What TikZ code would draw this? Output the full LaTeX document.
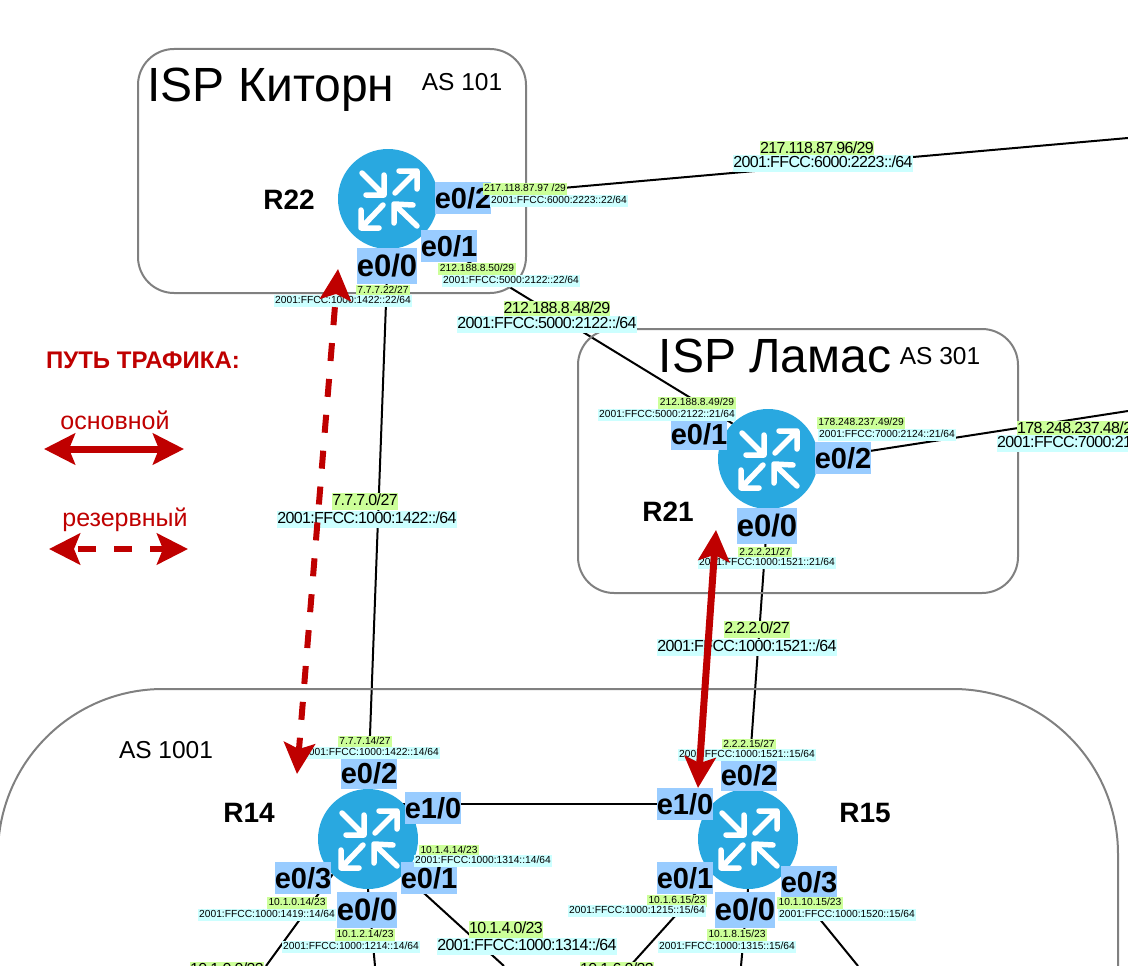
\documentclass[tikz,border=0pt]{standalone}
\usepackage{fontspec}
\usepackage{xcolor}
\usetikzlibrary{arrows.meta,backgrounds}
\setmainfont{Liberation Sans}
\newfontfamily\tightfont[LetterSpace=-4]{Liberation Sans}
\definecolor{router-blue}{HTML}{29A8E0}
\definecolor{port-blue}{HTML}{99CCFF}
\definecolor{ip-green}{HTML}{CCFF99}
\definecolor{ip-cyan}{HTML}{CCFFFF}
\definecolor{path-red}{HTML}{BF0000}
\tikzset{
    as-box/.style = {draw=gray, line width=2pt, rectangle, rounded corners=36pt, inner sep=0pt},
    as-title/.style = {font=\fontsize{48}{52}\selectfont, inner sep=0pt},
    as-number/.style = {font=\fontsize{24.5}{28}\selectfont, inner sep=0pt},
    router/.style = {circle, fill=router-blue, minimum size=100pt, inner sep=0pt, outer sep=0pt},
    router-name/.style = {font=\fontsize{28}{30}\selectfont\bfseries, inner sep=0pt},
    port/.style = {fill=port-blue, font=\fontsize{29}{30}\selectfont\bfseries, minimum width=56pt, minimum height=32pt, inner sep=0pt},
    port-big/.style = {port, font=\fontsize{31}{32}\selectfont\bfseries, minimum width=60pt, minimum height=36pt},
    ip-small/.style = {fill=ip-green, font=\fontsize{10.25}{12}\selectfont, inner xsep=1.5pt, inner ysep=1pt, text height=8pt, text depth=2pt, yshift=-0.5pt},
    ip6-small/.style = {ip-small, fill=ip-cyan},
    ip-net/.style = {fill=ip-green, font=\fontsize{16}{18}\tightfont, inner xsep=0pt, inner ysep=0pt, text height=12.5pt, text depth=4pt, yshift=-1.5pt},
    ip6-net/.style = {ip-net, fill=ip-cyan},
    link/.style = {draw=black, line width=2pt},
    path-main/.style = {draw=path-red, line width=7pt, {Stealth[length=31pt,width=31pt,inset=6pt]}-{Stealth[length=31pt,width=31pt,inset=6pt]}},
    path-backup/.style = {path-main, line width=6pt, dash pattern=on 18pt off 18pt, dash phase=30pt},
    legend-text/.style = {text=path-red, font=\fontsize{25}{28}\selectfont, inner sep=0pt},
    router-arrows/.pic = {
        \draw[white, line width=5.5pt, line cap=round, line join=round]
            (-26,-26) -- (-4,-4) (-4,-24) -- (-4,-4) -- (-22,-4)
            (7,-6) -- (29,-28) (11,-28) -- (29,-28) -- (29,-10)
            (-5,6) -- (-27,29) (-27,11) -- (-27,29) -- (-9,29)
            (29,27) -- (6,5) (25,6) -- (6,5) -- (6,24);
    },
}
\begin{document}
\begin{tikzpicture}[x=1pt, y=-1pt]
\path[use as bounding box, clip] (0,0) rectangle (1128,966);

\node[as-box, minimum width=388pt, minimum height=244pt] (isp-kitorn) at (332,171) {};
\node[as-box, minimum width=440pt, minimum height=264pt] (isp-lamas) at (798,461) {};
\node[as-box, rounded corners=165pt, minimum width=1120pt, minimum height=700pt] (as-1001) at (558,1039) {};

\node[as-title] (kitorn-title) at (271,90) {ISP Киторн};
\node[as-number] (kitorn-number) at (462,82) {AS 101};
\node[as-title] (lamas-title) at (775,356) {ISP Ламас};
\node[as-number] (lamas-number) at (940,356) {AS 301};
\node[as-number] (as-1001-number) at (166,750) {AS 1001};

\node[router] (R22) at (388,199) {};
\node[router] (R21) at (768,459) {};
\node[router] (R14) at (368,839) {};
\node[router] (R15) at (748,839) {};
\pic at (R22) {router-arrows};
\pic at (R21) {router-arrows};
\pic at (R14) {router-arrows};
\pic at (R15) {router-arrows};

\node[router-name] (R22-name) at (289,200) {R22};
\node[router-name] (R21-name) at (668,512) {R21};
\node[router-name] (R14-name) at (249,813) {R14};
\node[router-name] (R15-name) at (865,813) {R15};

\coordinate (kitorn-out) at (1128,138);
\coordinate (lamas-out) at (1128,411);
\coordinate (R14-out-sw) at (266,966);
\coordinate (R14-out-s) at (375,966);
\coordinate (R14-out-se) at (504,966);
\coordinate (R15-out-sw) at (630,966);
\coordinate (R15-out-s) at (741,966);
\coordinate (R15-out-se) at (858,966);

\begin{scope}[on background layer]
\draw[link] (R22.east) -- (kitorn-out);
\draw[link] (R22.south east) -- (R21.north west);
\draw[link] (R22.south) -- (R14.north);
\draw[link] (R21.south) -- (R15.north);
\draw[link] (R21.east) -- (lamas-out);
\draw[link] (R14.north east) -- (R15.north west);
\draw[link] (R14.south west) -- (R14-out-sw);
\draw[link] (R14.south) -- (R14-out-s);
\draw[link] (R14.south east) -- (R14-out-se);
\draw[link] (R15.south west) -- (R15-out-sw);
\draw[link] (R15.south) -- (R15-out-s);
\draw[link] (R15.south east) -- (R15-out-se);
\end{scope}

\node[port] (R22-e02) at (463,198) {e0/2};
\node[port] (R22-e01) at (449,246) {e0/1};
\node[port-big] (R22-e00) at (387,266) {e0/0};
\node[port] (R21-e01) at (699,434) {e0/1};
\node[port] (R21-e02) at (843,458) {e0/2};
\node[port-big] (R21-e00) at (767,526) {e0/0};
\node[port] (R14-e02) at (369,773) {e0/2};
\node[port] (R14-e10) at (433,808) {e1/0};
\node[port] (R14-e03) at (303,878) {e0/3};
\node[port] (R14-e01) at (429,878) {e0/1};
\node[port-big] (R14-e00) at (367,910) {e0/0};
\node[port] (R15-e02) at (749,775) {e0/2};
\node[port] (R15-e10) at (685,804) {e1/0};
\node[port] (R15-e01) at (685,878) {e0/1};
\node[port] (R15-e03) at (809,882) {e0/3};
\node[port-big] (R15-e00) at (745,910) {e0/0};

\node[ip-small] (R22-ip-e02) at (525,188) {217.118.87.97 /29};
\node[ip6-small] (R22-ip6-e02) at (559,200) {2001:FFCC:6000:2223::22/64};
\node[ip-small] (R22-ip-e01) at (477,268) {212.188.8.50/29};
\node[ip6-small] (R22-ip6-e01) at (511,280) {2001:FFCC:5000:2122::22/64};
\node[ip-small] (R22-ip-e00) at (383,290) {7.7.7.22/27};
\node[ip6-small] (R22-ip6-e00) at (343,300) {2001:FFCC:1000:1422::22/64};
\node[ip-small] (R21-ip-e01) at (697,402) {212.188.8.49/29};
\node[ip6-small] (R21-ip6-e01) at (667,414) {2001:FFCC:5000:2122::21/64};
\node[ip-small] (R21-ip-e02) at (861,422) {178.248.237.49/29};
\node[ip6-small] (R21-ip6-e02) at (887,434) {2001:FFCC:7000:2124::21/64};
\node[ip-small] (R21-ip-e00) at (765,552) {2.2.2.21/27};
\node[ip6-small] (R21-ip6-e00) at (767,562) {2001:FFCC:1000:1521::21/64};
\node[ip-small] (R14-ip-e02) at (365,741) {7.7.7.14/27};
\node[ip6-small] (R14-ip6-e02) at (371,752) {2001:FFCC:1000:1422::14/64};
\node[ip-small] (R14-ip-e01) at (449,850) {10.1.4.14/23};
\node[ip6-small] (R14-ip6-e01) at (483,860) {2001:FFCC:1000:1314::14/64};
\node[ip-small] (R14-ip-e03) at (297,902) {10.1.0.14/23};
\node[ip6-small] (R14-ip6-e03) at (267,914) {2001:FFCC:1000:1419::14/64};
\node[ip-small] (R14-ip-e00) at (365,934) {10.1.2.14/23};
\node[ip6-small] (R14-ip6-e00) at (351,946) {2001:FFCC:1000:1214::14/64};
\node[ip-small] (R15-ip-e02) at (749,744) {2.2.2.15/27};
\node[ip6-small] (R15-ip6-e02) at (747,754) {2001:FFCC:1000:1521::15/64};
\node[ip-small] (R15-ip-e01) at (677,900) {10.1.6.15/23};
\node[ip6-small] (R15-ip6-e01) at (637,910) {2001:FFCC:1000:1215::15/64};
\node[ip-small] (R15-ip-e03) at (810,902) {10.1.10.15/23};
\node[ip6-small] (R15-ip6-e03) at (847,914) {2001:FFCC:1000:1520::15/64};
\node[ip-small] (R15-ip-e00) at (737,934) {10.1.8.15/23};
\node[ip6-small] (R15-ip6-e00) at (727,946) {2001:FFCC:1000:1315::15/64};

\node[ip-net] (net-kitorn-ip) at (817,148) {217.118.87.96/29};
\node[ip6-net] (net-kitorn-ip6) at (823,162) {2001:FFCC:6000:2223::/64};
\node[ip-net] (net-R22-R21-ip) at (557,308) {212.188.8.48/29};
\node[ip6-net] (net-R22-R21-ip6) at (547,323) {2001:FFCC:5000:2122::/64};
\node[ip-net] (net-R22-R14-ip) at (365,500) {7.7.7.0/27};
\node[ip6-net] (net-R22-R14-ip6) at (367,518) {2001:FFCC:1000:1422::/64};
\node[ip-net] (net-R21-R15-ip) at (757,628) {2.2.2.0/27};
\node[ip6-net] (net-R21-R15-ip6) at (747,646) {2001:FFCC:1000:1521::/64};
\node[ip-net, anchor=west] (net-lamas-ip) at (1017,428) {178.248.237.48/29};
\node[ip6-net, anchor=west] (net-lamas-ip6) at (997,442) {2001:FFCC:7000:2124::/64};
\node[ip-net] (net-R14-e01-ip) at (506,928) {10.1.4.0/23};
\node[ip6-net] (net-R14-e01-ip6) at (527,945) {2001:FFCC:1000:1314::/64};
\node[ip-net] (net-R14-e03-ip) at (227,969) {10.1.0.0/23};
\node[ip-net] (net-R15-e01-ip) at (617,969) {10.1.6.0/23};

\node[legend-text, font=\fontsize{24}{28}\selectfont\bfseries] (legend-title) at (143,360) {ПУТЬ ТРАФИКА:};
\node[legend-text] (legend-main) at (115,420) {основной};
\node[legend-text] (legend-backup) at (125,520) {резервный};
\coordinate (legend-main-a) at (44,449);
\coordinate (legend-main-b) at (184,449);
\coordinate (legend-backup-a) at (49,549);
\coordinate (legend-backup-b) at (188,549);
\draw[path-main] (legend-main-a) -- (legend-main-b);
\draw[path-backup] (legend-backup-a) -- (legend-backup-b);

\coordinate (main-top) at (716,530);
\coordinate (main-bottom) at (698,788);
\coordinate (backup-top) at (338,269);
\coordinate (backup-bottom) at (297,774);
\draw[path-main] (main-top) -- (main-bottom);
\draw[path-backup, dash phase=21pt] (backup-top) -- (backup-bottom);
\end{tikzpicture}
\end{document}
